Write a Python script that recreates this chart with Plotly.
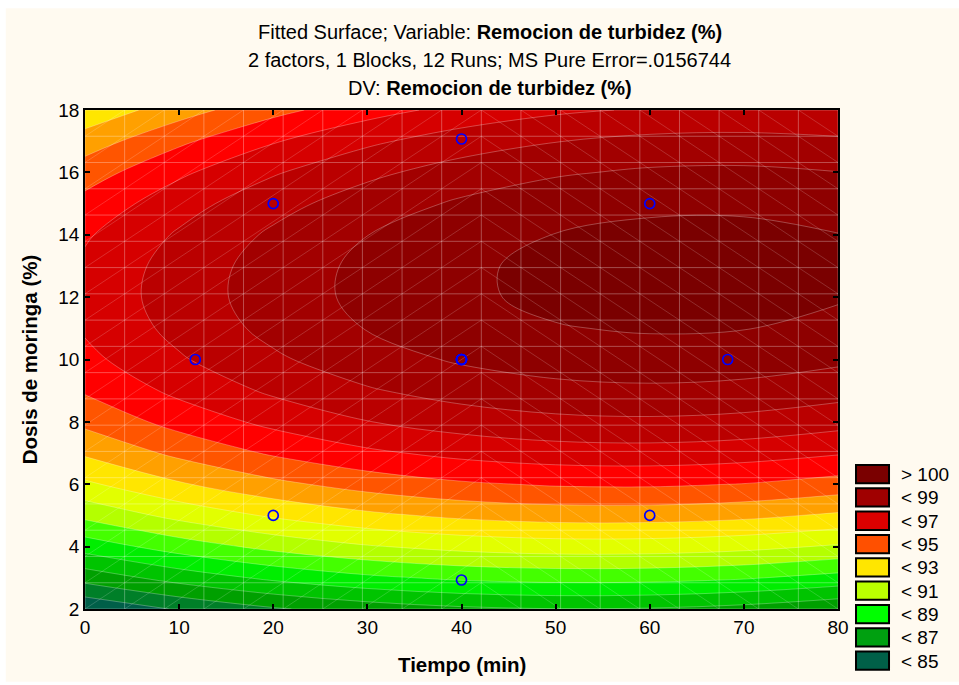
import plotly.graph_objects as go

# ---------------- data ----------------
time_min = [0, 10, 20, 30, 40, 50, 60, 70, 80]          # Tiempo (min)
dose = [2, 3, 4, 5, 6, 7, 8, 9, 10, 11, 12, 13, 14, 15, 16, 17, 18]  # Dosis de moringa (%)

# fitted surface (Remocion de turbidez, %), one column per time value
removal_t00 = [84.12, 86.40, 88.44, 90.25, 91.82, 93.15, 94.25, 95.11, 95.73, 96.12, 96.28, 96.19, 95.88, 95.32, 94.53, 93.50, 92.24]
removal_t10 = [85.11, 87.41, 89.47, 91.30, 92.89, 94.24, 95.36, 96.25, 96.89, 97.30, 97.48, 97.42, 97.12, 96.59, 95.82, 94.81, 93.57]
removal_t20 = [85.89, 88.21, 90.29, 92.14, 93.75, 95.13, 96.27, 97.17, 97.84, 98.28, 98.47, 98.43, 98.16, 97.65, 96.90, 95.92, 94.70]
removal_t30 = [86.46, 88.80, 90.91, 92.78, 94.41, 95.81, 96.97, 97.90, 98.59, 99.04, 99.26, 99.24, 98.99, 98.50, 97.77, 96.81, 95.61]
removal_t40 = [86.82, 89.19, 91.31, 93.21, 94.86, 96.28, 97.46, 98.41, 99.12, 99.60, 99.84, 99.84, 99.61, 99.14, 98.44, 97.50, 96.32]
removal_t50 = [86.98, 89.36, 91.51, 93.43, 95.10, 96.54, 97.75, 98.72, 99.45, 99.95, 100.21, 100.23, 100.02, 99.58, 98.89, 97.97, 96.82]
removal_t60 = [86.93, 89.33, 91.50, 93.44, 95.14, 96.60, 97.83, 98.82, 99.57, 100.09, 100.37, 100.42, 100.23, 99.81, 99.14, 98.25, 97.11]
removal_t70 = [86.67, 89.10, 91.29, 93.25, 94.97, 96.45, 97.70, 98.71, 99.49, 100.03, 100.33, 100.40, 100.23, 99.83, 99.19, 98.31, 97.20]
removal_t80 = [86.20, 88.65, 90.87, 92.84, 94.59, 96.09, 97.36, 98.39, 99.19, 99.75, 100.08, 100.17, 100.02, 99.64, 99.02, 98.17, 97.08]

# experimental runs (central composite design)
run_time = [20, 20, 60, 60, 11.72, 68.28, 40, 40, 40, 40, 40, 40]
run_dose = [5, 15, 5, 15, 10, 10, 2.93, 17.07, 10, 10, 10, 10]

# contour levels and band colours (below 85, 85-86, ..., 99-100, above 100)
level_start, level_end, level_step = 85, 100, 1
band_colors = ["#005F48", "#007F28", "#00A000", "#00C400", "#00EE00", "#44FF00",
               "#B4FF00", "#E2FF00", "#FFE600", "#FFA000", "#FF5500", "#FF0000",
               "#D60000", "#BA0000", "#A20000", "#8E0000", "#7A0000"]

legend_labels = ["> 100", "< 99", "< 97", "< 95", "< 93", "< 91", "< 89", "< 87", "< 85"]
legend_colors = ["#7A0000", "#A00000", "#DC0000", "#FF5000", "#FFE600", "#BBFF00", "#00FF00", "#00A010", "#006048"]

x_ticks = [0, 10, 20, 30, 40, 50, 60, 70, 80]
y_ticks = [2, 4, 6, 8, 10, 12, 14, 16, 18]

n_mesh = 19  # triangulation mesh cells per side

# ---------------- layout helpers ----------------
W, H = 959, 685
PL, PR, PT, PB = 85.2, 838.0, 109.9, 609.1
def fx(px):
    return (px - PL) / (PR - PL)
def fy(py):
    return (PB - py) / (PB - PT)

FONT = "Arial, Liberation Sans, sans-serif"
cream = "#FFFAF0"

cols = [removal_t00, removal_t10, removal_t20, removal_t30, removal_t40,
        removal_t50, removal_t60, removal_t70, removal_t80]
z = [[c[i] for c in cols] for i in range(len(dose))]

n_bands = len(band_colors) - 1
fig = go.Figure()
fig.add_trace(go.Contour(
    x=time_min, y=dose, z=z,
    autocontour=False,
    contours=dict(start=level_start, end=level_end, size=level_step,
                  coloring="fill", showlines=True),
    colorscale=[[i / n_bands, c] for i, c in enumerate(band_colors)],
    line=dict(color="rgba(255,255,255,0.35)", width=0.8, smoothing=1),
    showscale=False,
    hovertemplate="Tiempo: %{x}<br>Dosis: %{y}<br>Remoción: %{z:.2f}<extra></extra>",
))

# triangulation mesh overlay
x0r, x1r = time_min[0], time_min[-1]
y0r, y1r = dose[0], dose[-1]
mx = [x0r + (x1r - x0r) * k / n_mesh for k in range(n_mesh + 1)]
my = [y0r + (y1r - y0r) * k / n_mesh for k in range(n_mesh + 1)]
gx, gy = [], []
for v in mx:
    gx += [v, v, None]; gy += [y0r, y1r, None]
for v in my:
    gx += [x0r, x1r, None]; gy += [v, v, None]
fig.add_trace(go.Scatter(x=gx, y=gy, mode="lines", hoverinfo="skip", showlegend=False,
                         line=dict(color="rgba(255,255,255,0.30)", width=1)))
dx, dy = [], []
half = (n_mesh + 1) // 2
for i in range(n_mesh):
    for j in range(n_mesh):
        if i < half:
            dx += [mx[i], mx[i + 1], None]; dy += [my[j], my[j + 1], None]
        else:
            dx += [mx[i], mx[i + 1], None]; dy += [my[j + 1], my[j], None]
fig.add_trace(go.Scatter(x=dx, y=dy, mode="lines", hoverinfo="skip", showlegend=False,
                         line=dict(color="rgba(255,255,255,0.22)", width=0.8)))

fig.add_trace(go.Scatter(x=run_time, y=run_dose, mode="markers", showlegend=False,
                         marker=dict(symbol="circle-open", size=10, color="#0000FF",
                                     line=dict(width=1.7, color="#0000FF")),
                         hovertemplate="Tiempo: %{x}<br>Dosis: %{y}<extra></extra>"))

axis_common = dict(showgrid=False, zeroline=False, showline=True, linecolor="black",
                   linewidth=1.5, mirror="ticks", ticks="inside", ticklen=5,
                   tickwidth=1.5, tickcolor="black", layer="above traces",
                   tickfont=dict(family=FONT, size=19, color="black"))
fig.update_xaxes(range=[x0r, x1r], tickvals=x_ticks, **axis_common)
fig.update_yaxes(range=[y0r, y1r], tickvals=y_ticks, **axis_common)

shapes = [dict(type="rect", xref="paper", yref="paper", layer="below",
               x0=fx(6), x1=fx(W), y0=fy(682), y1=fy(8),
               fillcolor=cream, line=dict(width=0))]
annotations = []
for k, (lab, col) in enumerate(zip(legend_labels, legend_colors)):
    top = 465 + 23.33 * k
    shapes.append(dict(type="rect", xref="paper", yref="paper",
                       x0=fx(856), x1=fx(889), y0=fy(top + 18.3), y1=fy(top),
                       fillcolor=col, line=dict(color="black", width=2)))
    annotations.append(dict(xref="paper", yref="paper", x=fx(899), y=fy(top + 9.5),
                            text=lab, showarrow=False, xanchor="left", yanchor="middle",
                            font=dict(family=FONT, size=19, color="black")))

title_lines = ["Fitted Surface; Variable: <b>Remocion de turbidez (%)</b>",
               "2 factors, 1 Blocks, 12 Runs; MS Pure Error=.0156744",
               "DV: <b>Remocion de turbidez (%)</b>"]
for t, py in zip(title_lines, [32, 60, 88]):
    annotations.append(dict(xref="paper", yref="paper", x=fx(490), y=fy(py), text=t,
                            showarrow=False, xanchor="center", yanchor="middle",
                            font=dict(family=FONT, size=20, color="black")))
annotations.append(dict(xref="paper", yref="paper", x=fx(462), y=fy(665),
                        text="<b>Tiempo (min)</b>", showarrow=False,
                        xanchor="center", yanchor="middle",
                        font=dict(family=FONT, size=20.5, color="black")))
annotations.append(dict(xref="paper", yref="paper", x=fx(30), y=fy(359.5),
                        text="<b>Dosis de moringa (%)</b>", showarrow=False, textangle=-90,
                        xanchor="center", yanchor="middle",
                        font=dict(family=FONT, size=20.5, color="black")))

fig.update_layout(width=W, height=H, autosize=False,
                  margin=dict(l=PL, r=W - PR, t=PT, b=H - PB, pad=0),
                  paper_bgcolor="white", plot_bgcolor="rgba(0,0,0,0)",
                  shapes=shapes, annotations=annotations, showlegend=False,
                  font=dict(family=FONT, color="black"))

fig.write_html("out.html", config={"displayModeBar": False},
               post_script="document.body.style.margin='0px';document.body.style.padding='0px';")
